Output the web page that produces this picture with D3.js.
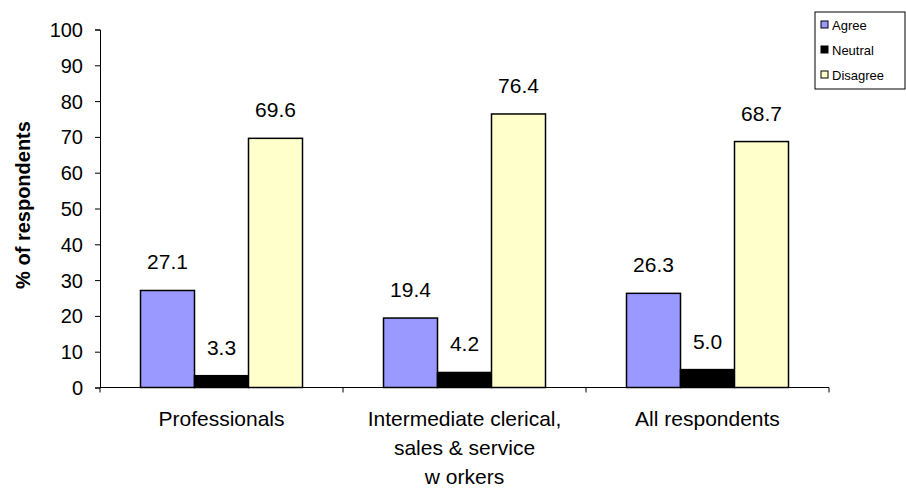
<!DOCTYPE html>
<html>
<head>
<meta charset="utf-8">
<script src="https://cdn.jsdelivr.net/npm/d3@7"></script>
<style>
  body { margin: 0; background: #fff; }
  text { font-family: Arial, "Liberation Sans", sans-serif; fill: #000; }
</style>
</head>
<body>
<div id="chart"></div>
<script>
// data
const categories = [
    ["Professionals"],
    ["Intermediate clerical,", "sales & service", "w orkers"],
    ["All respondents"]
];
const seriesNames = ["Agree", "Neutral", "Disagree"];
const agree = [27.1, 19.4, 26.3];
const neutral = [3.3, 4.2, 5.0];
const disagree = [69.6, 76.4, 68.7];
const yTicks = [0, 10, 20, 30, 40, 50, 60, 70, 80, 90, 100];
const colors = ["#9999FF", "#000000", "#FFFFCC"];

const width = 906, height = 488;
const margin = {top: 29.5, right: 77, bottom: 100.5, left: 100};

const svg = d3.select("#chart").append("svg")
    .attr("width", width)
    .attr("height", height);

const innerW = width - margin.left - margin.right;
const innerH = height - margin.top - margin.bottom;

const g = svg.append("g")
    .attr("transform", "translate(" + margin.left + "," + margin.top + ")");

const catIdx = categories.map((c, i) => i);
const x0 = d3.scaleBand().domain(catIdx).range([0, innerW]).padding(0);
const groupPad = x0.bandwidth() / 6;
const x1 = d3.scaleBand().domain(seriesNames)
    .range([groupPad, x0.bandwidth() - groupPad]).padding(0);
const y = d3.scaleLinear().domain([0, 100]).range([innerH, 0]);

// y axis
const yAxis = g.append("g")
    .call(d3.axisLeft(y).tickValues(yTicks).tickSize(5).tickPadding(12));
yAxis.select(".domain").attr("stroke", "#000").attr("stroke-width", 1);
yAxis.selectAll(".tick line").attr("stroke", "#000");
yAxis.selectAll("text").style("font-size", "20px").attr("dy", "0.35em");

// bars
const rows = catIdx.map(i => ({cat: i, values: [agree[i], neutral[i], disagree[i]]}));
const groups = g.selectAll(".barG")
    .data(rows)
    .join("g")
    .attr("class", "barG")
    .attr("transform", d => "translate(" + x0(d.cat) + ",0)");

groups.selectAll("rect")
    .data(d => d.values.map((v, j) => ({name: seriesNames[j], value: v, j: j})))
    .join("rect")
    .attr("x", d => x1(d.name))
    .attr("y", d => y(d.value))
    .attr("width", x1.bandwidth())
    .attr("height", d => innerH - y(d.value))
    .attr("fill", d => colors[d.j])
    .attr("stroke", "#000")
    .attr("stroke-width", 1.5);

groups.selectAll(".valLabel")
    .data(d => d.values.map((v, j) => ({name: seriesNames[j], value: v})))
    .join("text")
    .attr("class", "valLabel")
    .attr("x", d => x1(d.name) + x1.bandwidth() / 2)
    .attr("y", d => y(d.value) - 21)
    .attr("text-anchor", "middle")
    .style("font-size", "21px")
    .text(d => d.value.toFixed(1));

// x axis (category axis with ticks between groups)
const xAxisG = g.append("g")
    .attr("transform", "translate(0," + innerH + ")");
xAxisG.append("line")
    .attr("x1", 0).attr("x2", innerW)
    .attr("stroke", "#000").attr("stroke-width", 1);
xAxisG.selectAll(".catTick")
    .data(catIdx.concat([categories.length]))
    .join("line")
    .attr("class", "catTick")
    .attr("x1", d => d < categories.length ? x0(d) : innerW)
    .attr("x2", d => d < categories.length ? x0(d) : innerW)
    .attr("y1", 0).attr("y2", 5)
    .attr("stroke", "#000");

const catLabels = xAxisG.selectAll(".catLabel")
    .data(catIdx)
    .join("text")
    .attr("class", "catLabel")
    .attr("x", d => x0(d) + x0.bandwidth() / 2)
    .attr("y", 38.5)
    .attr("text-anchor", "middle")
    .style("font-size", "21px");
catLabels.selectAll("tspan")
    .data(d => categories[d].map((line, k) => ({line, k, cx: x0(d) + x0.bandwidth() / 2})))
    .join("tspan")
    .attr("x", d => d.cx)
    .attr("dy", d => d.k === 0 ? 0 : 29)
    .text(d => d.line);

// y axis title
svg.append("text")
    .attr("transform", "translate(30,205) rotate(-90)")
    .attr("text-anchor", "middle")
    .style("font-size", "20px")
    .style("font-weight", "bold")
    .text("% of respondents");

// legend
const legend = svg.append("g").attr("transform", "translate(815,12)");
legend.append("rect")
    .attr("x", 0).attr("y", 0)
    .attr("width", 90).attr("height", 77)
    .attr("fill", "#fff")
    .attr("stroke", "#000")
    .attr("stroke-width", 1);
const items = legend.selectAll(".legItem")
    .data(seriesNames)
    .join("g")
    .attr("class", "legItem")
    .attr("transform", (d, i) => "translate(6," + (13 + i * 25) + ")");
items.append("rect")
    .attr("x", 0).attr("y", -4)
    .attr("width", 7).attr("height", 7)
    .attr("fill", (d, i) => colors[i])
    .attr("stroke", "#000")
    .attr("stroke-width", 1);
items.append("text")
    .attr("x", 11)
    .attr("dy", "0.35em")
    .style("font-size", "13px")
    .text(d => d);
</script>
</body>
</html>
